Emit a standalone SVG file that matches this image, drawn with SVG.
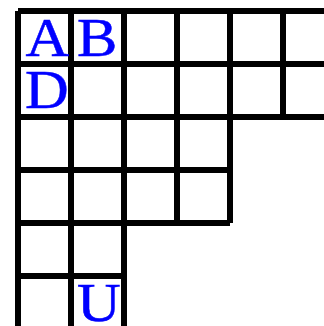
<svg xmlns="http://www.w3.org/2000/svg" width="324" height="326" viewBox="0 0 324 326">
<style>
.g line{stroke:#000;stroke-width:6;stroke-linecap:butt}
.t{font-family:"Liberation Serif","Times New Roman",serif;font-size:55px;fill:#0000FF;stroke:#0000FF;stroke-width:0.5}
</style>
<rect width="324" height="326" fill="#fff"/>
<g id="connectors" class="g">
<line x1="18" y1="11" x2="340" y2="11"/>
<line x1="18" y1="64" x2="340" y2="64"/>
<line x1="18" y1="117" x2="340" y2="117"/>
<line x1="18" y1="170" x2="230" y2="170"/>
<line x1="18" y1="223" x2="230" y2="223"/>
<line x1="18" y1="276" x2="124" y2="276"/>
<line x1="18" y1="11" x2="18" y2="329"/>
<line x1="71" y1="11" x2="71" y2="329"/>
<line x1="124" y1="11" x2="124" y2="329"/>
<line x1="177" y1="11" x2="177" y2="223"/>
<line x1="230" y1="11" x2="230" y2="223"/>
<line x1="283" y1="11" x2="283" y2="117"/>
</g>
<g id="cellA" transform="scale(1.1,1)"><text class="t" x="23.2" y="56">A</text></g>
<g id="cellB" transform="scale(1.1,1)"><text class="t" x="70" y="56">B</text></g>
<g id="cellD" transform="scale(1.1,1)"><text class="t" x="22.7" y="108.5">D</text></g>
<g id="cellU" transform="scale(1.1,1)"><text class="t" x="70" y="321">U</text></g>
</svg>
